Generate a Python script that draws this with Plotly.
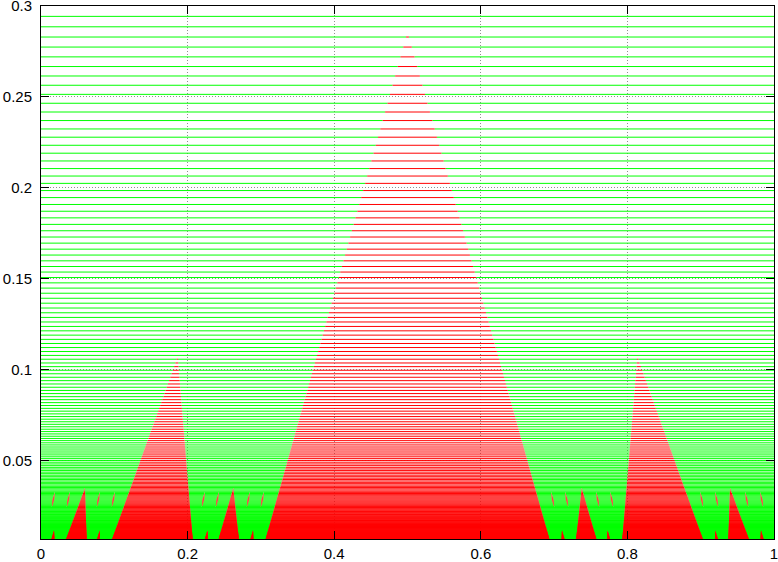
import plotly.graph_objects as go

# Horizontal sampling levels (top to bottom)
y_levels = [
    0.29430, 0.28856, 0.28293, 0.27742, 0.27201, 0.26670, 0.26150, 0.25640, 0.25140, 0.24650,
    0.24169, 0.23698, 0.23236, 0.22783, 0.22339, 0.21903, 0.21476, 0.21057, 0.20646, 0.20243,
    0.19848, 0.19461, 0.19082, 0.18710, 0.18345, 0.17987, 0.17636, 0.17292, 0.16955, 0.16624,
    0.16300, 0.15982, 0.15670, 0.15364, 0.15064, 0.14770, 0.14482, 0.14200, 0.13923, 0.13652,
    0.13386, 0.13125, 0.12869, 0.12618, 0.12372, 0.12131, 0.11894, 0.11662, 0.11435, 0.11212,
    0.10993, 0.10779, 0.10569, 0.10363, 0.10161, 0.09963, 0.09769, 0.09578, 0.09391, 0.09208,
    0.09028, 0.08852, 0.08679, 0.08510, 0.08344, 0.08181, 0.08022, 0.07866, 0.07713, 0.07563,
    0.07415, 0.07270, 0.07128, 0.06989, 0.06853, 0.06719, 0.06588, 0.06460, 0.06334, 0.06211,
    0.06090, 0.05971, 0.05855, 0.05741, 0.05629, 0.05519, 0.05411, 0.05306, 0.05202, 0.05101,
    0.05001, 0.04904, 0.04808, 0.04714, 0.04622, 0.04532, 0.04444, 0.04357, 0.04272, 0.04189,
    0.04107, 0.04027, 0.03949, 0.03872, 0.03797, 0.03723, 0.03650, 0.03579, 0.03509, 0.03441,
    0.03374, 0.03308, 0.03244, 0.03181, 0.03119, 0.03058, 0.02998, 0.02940, 0.02883, 0.02827,
    0.02772, 0.02718, 0.02665, 0.02613, 0.02562, 0.02512, 0.02463, 0.02415, 0.02368, 0.02322,
    0.02277, 0.02233, 0.02190, 0.02147, 0.02105, 0.02064, 0.02024, 0.01985, 0.01946, 0.01908,
    0.01871, 0.01835, 0.01799, 0.01764, 0.01730, 0.01696, 0.01663, 0.01631, 0.01599, 0.01568,
    0.01537, 0.01507, 0.01478, 0.01449, 0.01421, 0.01393, 0.01366, 0.01339, 0.01313, 0.01287,
    0.01262, 0.01237, 0.01213, 0.01189, 0.01166, 0.01143, 0.01121, 0.01099, 0.01078, 0.01057,
    0.01036, 0.01016, 0.00996, 0.00977, 0.00958, 0.00939, 0.00921, 0.00903, 0.00885, 0.00868,
    0.00851, 0.00834, 0.00818, 0.00802, 0.00786, 0.00771, 0.00756, 0.00741, 0.00726, 0.00712,
    0.00698, 0.00684,
]

# Red regions (left half; right half is the mirror image x -> 1 - x)
central_triangle = [(0.3060, 0.0060), (0.5000, 0.2858), (0.6940, 0.0060)]
side_triangle = [(0.0965, 0.0060), (0.1865, 0.1071), (0.2070, 0.0060)]
small_triangles = [
    [(0.0337, 0.0060), (0.0600, 0.0348), (0.0623, 0.0060)],
    [(0.2419, 0.0060), (0.2623, 0.0348), (0.2701, 0.0060)],
]
needle_x = [0.0168, 0.0372, 0.0782, 0.0986, 0.2214, 0.2405, 0.2828, 0.3019]
needle_y = [0.0243, 0.0284, 0.0325]
spike_x = [0.0168, 0.0791, 0.2261, 0.2883]
spike_y = [0.0060, 0.0115]

x_ticks = [0, 0.2, 0.4, 0.6, 0.8, 1]
y_ticks = [0.05, 0.1, 0.15, 0.2, 0.25, 0.3]

# ---- build polygons ----
left_polys = [side_triangle] + small_triangles
for xc in needle_x:
    left_polys.append([(xc - 0.0020, needle_y[0]), (xc + 0.0012, needle_y[1]),
                       (xc + 0.0020, needle_y[2]), (xc - 0.0012, needle_y[1])])
for xc in spike_x:
    left_polys.append([(xc - 0.0030, spike_y[0]), (xc + 0.0010, spike_y[1]),
                       (xc + 0.0015, spike_y[0])])

polys = [central_triangle]
for p in left_polys:
    polys.append(p)
    polys.append([(1 - x, y) for (x, y) in p])


def cut(poly, y):
    xs = []
    n = len(poly)
    for i in range(n):
        x1, y1 = poly[i]
        x2, y2 = poly[(i + 1) % n]
        if (y1 - y) * (y2 - y) <= 0 and y1 != y2:
            t = (y - y1) / (y2 - y1)
            xs.append(x1 + t * (x2 - x1))
    if len(xs) < 2:
        return None
    return (min(xs), max(xs))


gx, gy, rx, ry = [], [], [], []
for y in y_levels:
    ivs = [iv for iv in (cut(p, y) for p in polys) if iv]
    ivs.sort()
    merged = []
    for a, b in ivs:
        if merged and a <= merged[-1][1]:
            merged[-1][1] = max(merged[-1][1], b)
        else:
            merged.append([a, b])
    pos = 0.0
    for a, b in merged:
        a, b = max(a, 0.0), min(b, 1.0)
        if a > pos:
            gx += [pos, a, None]
            gy += [y, y, None]
        rx += [a, b, None]
        ry += [y, y, None]
        pos = max(pos, b)
    if pos < 1.0:
        gx += [pos, 1.0, None]
        gy += [y, y, None]

fig = go.Figure()
fig.add_trace(go.Scatter(x=gx, y=gy, mode="lines",
                         line=dict(color="#00ff00", width=1),
                         hoverinfo="skip", showlegend=False))
fig.add_trace(go.Scatter(x=rx, y=ry, mode="lines",
                         line=dict(color="#ff0000", width=1),
                         hoverinfo="skip", showlegend=False))

axis_common = dict(
    showline=True, linecolor="black", linewidth=1, mirror="ticks",
    ticks="inside", ticklen=8, tickcolor="black", tickwidth=1,
    showgrid=True, gridcolor="#909090", gridwidth=1, griddash="1px,2px",
    zeroline=False, automargin=False, ticklabeloverflow="allow",
    tickfont=dict(family="Liberation Sans, Arial, sans-serif", size=15, color="black"),
)
fig.update_xaxes(range=[0, 1], tickvals=x_ticks, ticktext=[f"{v:g}" for v in x_ticks],
                 ticklabelstandoff=1, **axis_common)
fig.update_yaxes(range=[0.0068, 0.3], tickvals=y_ticks, ticktext=[f"{v:g}" for v in y_ticks],
                 ticklabelstandoff=5, **axis_common)
fig.update_layout(
    width=778, height=562,
    margin=dict(l=41, r=4, t=6, b=23, autoexpand=False),
    plot_bgcolor="white", paper_bgcolor="white",
    showlegend=False,
)
fig.write_html("out.html", config={"displayModeBar": False, "staticPlot": True},
               post_script="document.body.style.margin='0';document.body.style.overflow='hidden';")
